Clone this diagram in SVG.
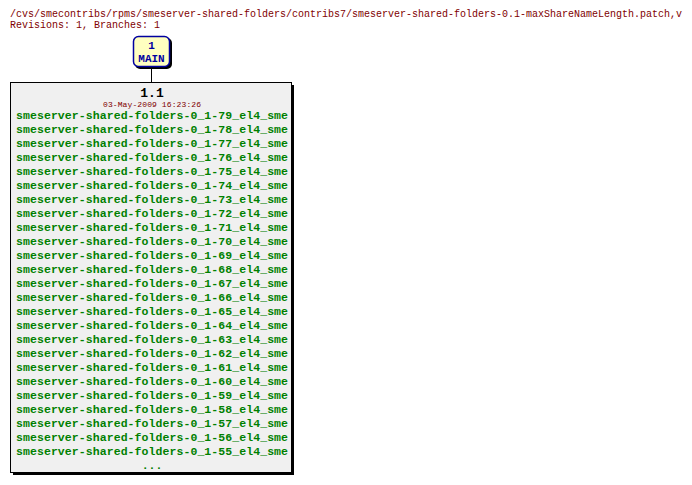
<svg xmlns="http://www.w3.org/2000/svg" width="692" height="485" viewBox="0 0 692 485">
<style>
.hdr{font-family:"Liberation Mono","DejaVu Sans Mono",monospace;font-size:10px;fill:#800000}
.tag{font-family:"Liberation Mono","DejaVu Sans Mono",monospace;font-size:11.5px;font-weight:bold;fill:#008000}
.br{font-family:"Liberation Mono","DejaVu Sans Mono",monospace;font-size:11px;font-weight:bold;fill:#0000a0}
</style>
<rect width="692" height="485" fill="#ffffff"/>
<text class="hdr" x="10" y="17">/cvs/smecontribs/rpms/smeserver-shared-folders/contribs7/smeserver-shared-folders-0.1-maxShareNameLength.patch,v</text>
<text class="hdr" x="10" y="28">Revisions: 1, Branches: 1</text>
<g id="connectors">
<line x1="151.5" y1="67" x2="151.5" y2="82" stroke="#000" stroke-width="1"/>
</g>
<g id="MAIN">
<rect x="135" y="38" width="37" height="31" rx="5" fill="#000"/>
<rect x="133.5" y="36.5" width="36" height="30" rx="5" fill="#ffffc0" stroke="#0000a0" stroke-width="1.5"/>
<text class="br" x="151.5" y="49" text-anchor="middle">1</text>
<text class="br" x="151.5" y="62" text-anchor="middle">MAIN</text>
</g>
<g id="r1.1">
<rect x="13" y="85" width="281" height="390" fill="#000"/>
<rect x="10.5" y="82.5" width="281" height="390" fill="#f0f0f0" stroke="#000" stroke-width="1"/>
<text x="152" y="97" text-anchor="middle" font-family="Liberation Mono,monospace" font-size="13" font-weight="bold" fill="#000">1.1</text>
<text x="103" y="106.5" textLength="98" font-family="Liberation Mono,monospace" font-size="8" fill="#800000">03-May-2009 16:23:26</text>
<g class="tag">
<text x="16" y="119" textLength="272">smeserver-shared-folders-0_1-79_el4_sme</text>
<text x="16" y="133" textLength="272">smeserver-shared-folders-0_1-78_el4_sme</text>
<text x="16" y="147" textLength="272">smeserver-shared-folders-0_1-77_el4_sme</text>
<text x="16" y="161" textLength="272">smeserver-shared-folders-0_1-76_el4_sme</text>
<text x="16" y="175" textLength="272">smeserver-shared-folders-0_1-75_el4_sme</text>
<text x="16" y="189" textLength="272">smeserver-shared-folders-0_1-74_el4_sme</text>
<text x="16" y="203" textLength="272">smeserver-shared-folders-0_1-73_el4_sme</text>
<text x="16" y="217" textLength="272">smeserver-shared-folders-0_1-72_el4_sme</text>
<text x="16" y="231" textLength="272">smeserver-shared-folders-0_1-71_el4_sme</text>
<text x="16" y="245" textLength="272">smeserver-shared-folders-0_1-70_el4_sme</text>
<text x="16" y="259" textLength="272">smeserver-shared-folders-0_1-69_el4_sme</text>
<text x="16" y="273" textLength="272">smeserver-shared-folders-0_1-68_el4_sme</text>
<text x="16" y="287" textLength="272">smeserver-shared-folders-0_1-67_el4_sme</text>
<text x="16" y="301" textLength="272">smeserver-shared-folders-0_1-66_el4_sme</text>
<text x="16" y="315" textLength="272">smeserver-shared-folders-0_1-65_el4_sme</text>
<text x="16" y="329" textLength="272">smeserver-shared-folders-0_1-64_el4_sme</text>
<text x="16" y="343" textLength="272">smeserver-shared-folders-0_1-63_el4_sme</text>
<text x="16" y="357" textLength="272">smeserver-shared-folders-0_1-62_el4_sme</text>
<text x="16" y="371" textLength="272">smeserver-shared-folders-0_1-61_el4_sme</text>
<text x="16" y="385" textLength="272">smeserver-shared-folders-0_1-60_el4_sme</text>
<text x="16" y="399" textLength="272">smeserver-shared-folders-0_1-59_el4_sme</text>
<text x="16" y="413" textLength="272">smeserver-shared-folders-0_1-58_el4_sme</text>
<text x="16" y="427" textLength="272">smeserver-shared-folders-0_1-57_el4_sme</text>
<text x="16" y="441" textLength="272">smeserver-shared-folders-0_1-56_el4_sme</text>
<text x="16" y="455" textLength="272">smeserver-shared-folders-0_1-55_el4_sme</text>
<text x="152" y="469" text-anchor="middle">...</text>
</g>
</g>
</svg>
